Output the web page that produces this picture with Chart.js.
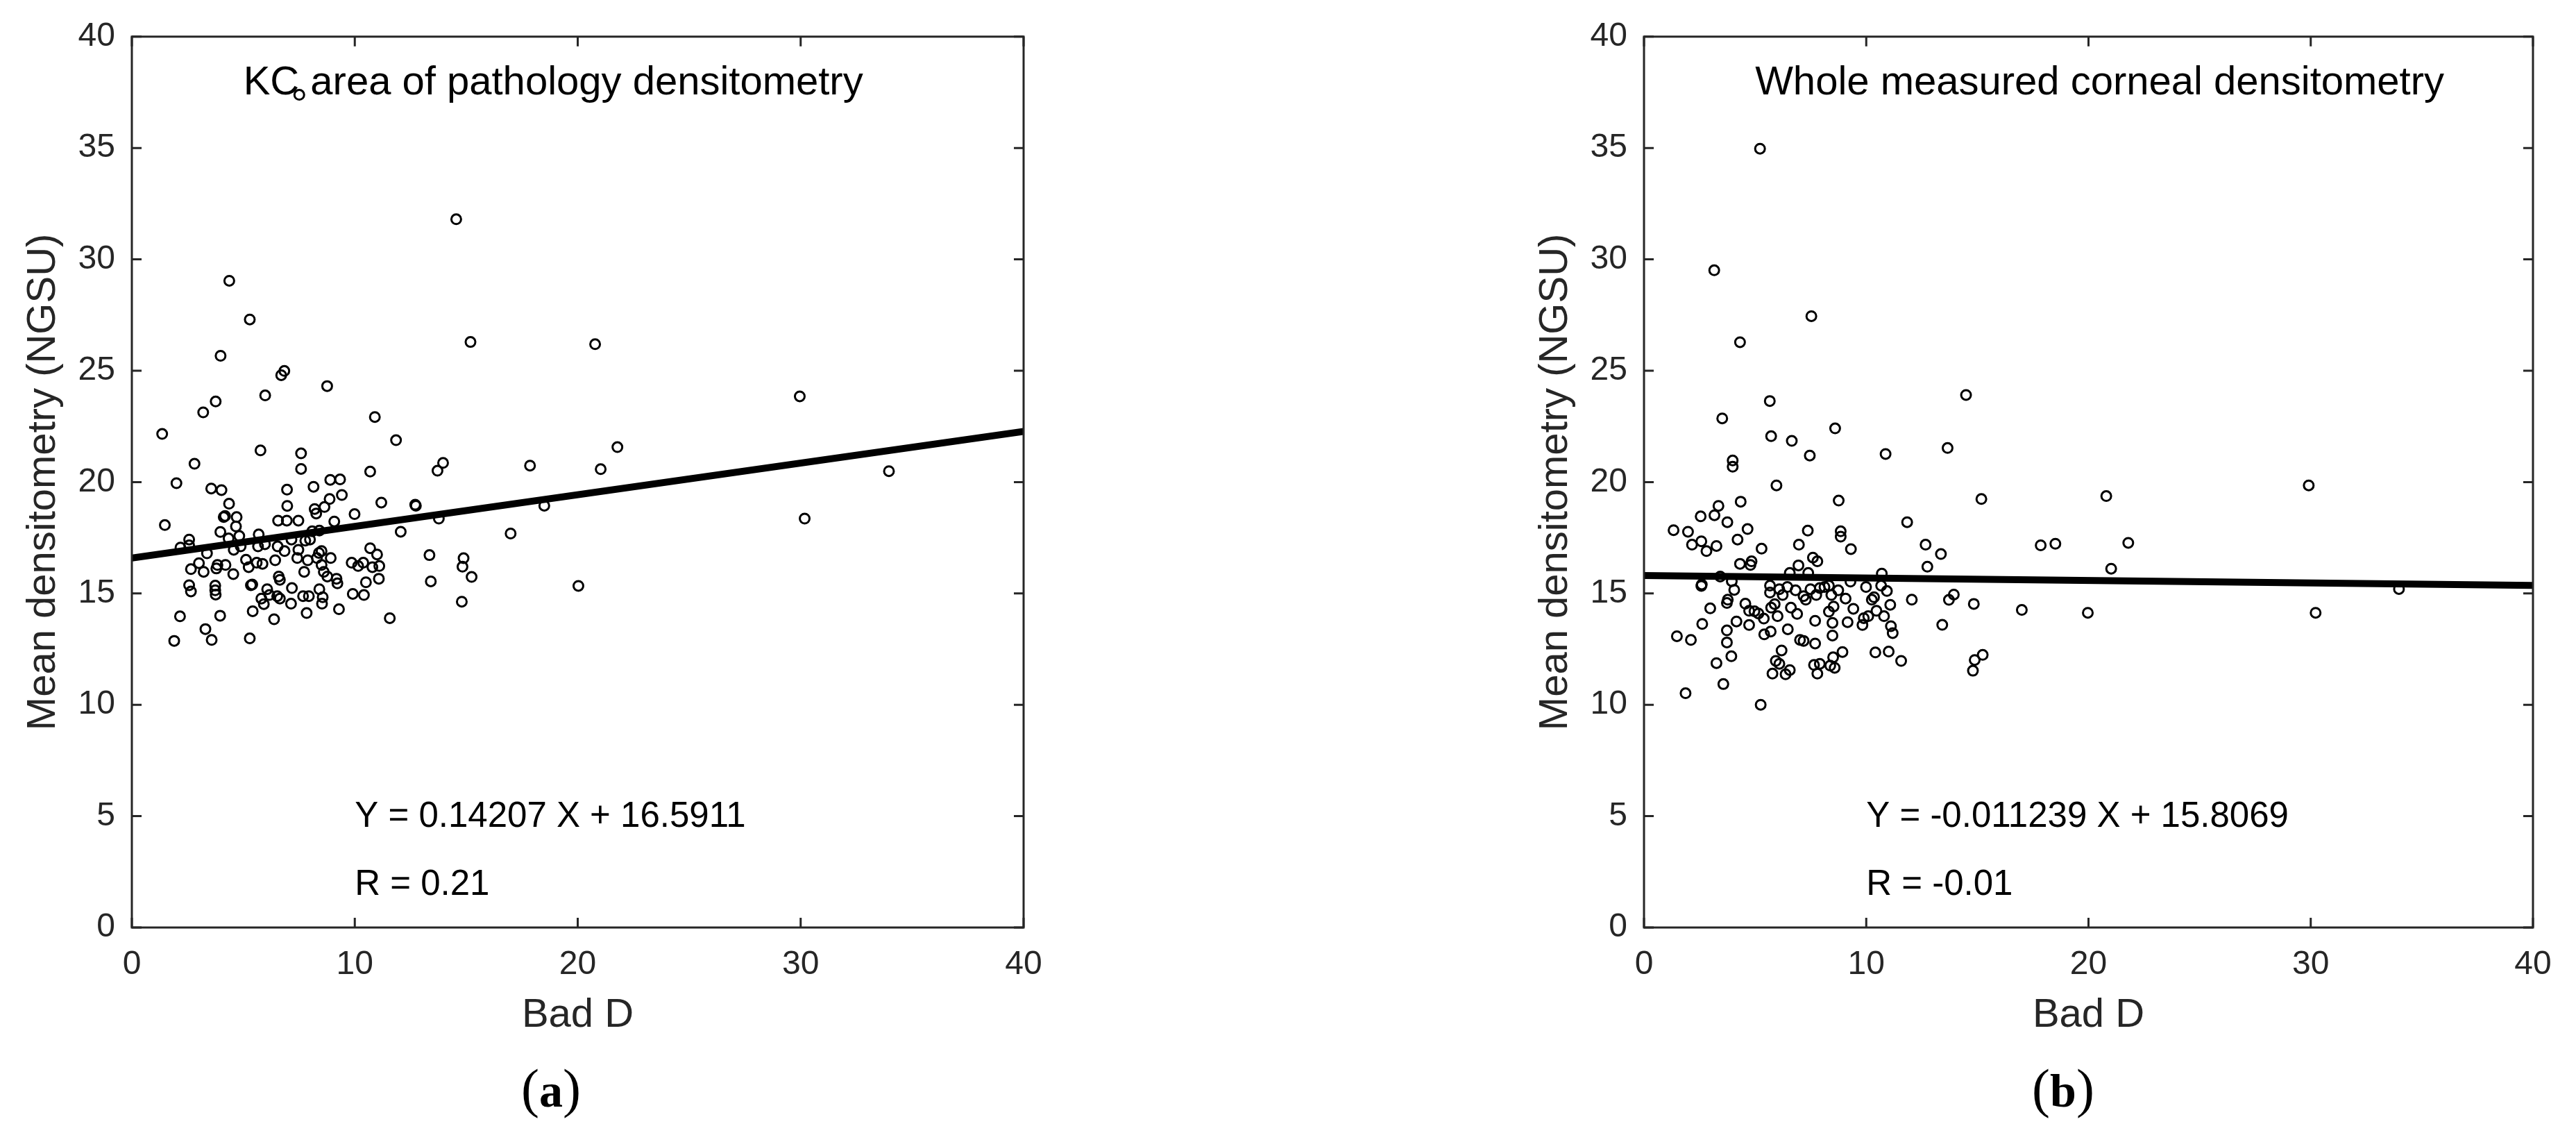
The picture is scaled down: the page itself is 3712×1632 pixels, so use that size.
<!DOCTYPE html>
<html>
<head>
<meta charset="utf-8">
<script src="https://cdn.jsdelivr.net/npm/chart.js@4.4.1/dist/chart.umd.min.js"></script>
<style>
  html, body { margin: 0; padding: 0; background: #fff; overflow: hidden; }
  body { width: 3712px; height: 1632px; position: relative; }
  canvas { position: absolute; top: 0; }
  #chartA { left: 0; }
  #chartB { left: 2179px; }
  .cap {
    position: absolute;
    font-family: 'Liberation Serif', 'Times New Roman', serif;
    font-size: 78px;
    line-height: 1;
    color: #000;
    transform: translate(-50%, -50%);
    white-space: nowrap;
  }
  .cap b { font-size: 68px; }
</style>
</head>
<body>
<canvas id="chartA" width="1560" height="1520"></canvas>
<canvas id="chartB" width="1530" height="1520"></canvas>
<div class="cap" style="left:794px; top:1568px">(<b>a</b>)</div>
<div class="cap" style="left:2973px; top:1568px">(<b>b</b>)</div>
<script>
// panel (a): KC area of pathology densitometry vs Bad D
const badDA = [
  7.51, 14.55, 4.37, 5.29, 15.19, 20.78, 3.98, 6.84, 6.70, 8.76,
  29.96, 5.98, 3.76, 3.20, 10.90, 1.36, 11.85, 21.78, 13.96, 13.71,
  17.86, 21.03, 33.96, 18.50, 13.77, 30.18, 16.99, 13.35, 14.88, 14.83,
  15.24, 13.41, 20.03, 14.80,
  5.77, 7.59, 7.59, 2.81, 2.00, 3.56, 4.02, 6.96, 8.15, 8.90,
  9.34, 10.69, 4.36, 9.42, 8.87, 11.19, 6.97, 12.71, 12.74, 8.64,
  8.20, 8.27, 4.12, 4.18, 4.70, 9.99, 6.56, 6.95, 7.47, 9.08,
  1.48, 4.67, 12.06, 3.97, 4.82, 5.69, 2.57, 4.34, 8.09, 8.41,
  2.18, 2.57, 4.57, 4.88, 5.66, 5.97, 6.54, 7.16, 7.47, 7.78,
  7.99, 3.37, 8.51, 8.39, 10.69, 11.00, 3.01, 2.65, 3.22, 3.84,
  3.79, 4.20, 4.55, 5.12, 5.24, 5.60, 5.86, 6.43, 6.85, 7.42,
  7.89, 7.73, 8.30, 8.51, 8.61, 8.77, 8.92, 9.18, 9.22, 9.86,
  10.15, 10.38, 10.79, 11.10, 11.08, 10.50, 6.59, 6.64, 2.57, 2.65,
  3.74, 3.74, 3.76, 5.34, 5.40, 6.07, 6.17, 5.81, 5.92, 6.52,
  6.64, 7.18, 7.14, 7.68, 7.94, 8.41, 8.56, 8.53, 9.91, 10.41,
  9.29, 7.84, 5.42, 6.38, 2.16, 3.96, 11.57, 3.30, 1.90, 3.58,
  5.29
];
const densA = [
  37.39, 31.80, 29.04, 27.30, 26.29, 26.19, 25.67, 24.99, 24.80, 24.31,
  23.85, 23.89, 23.62, 23.13, 22.92, 22.16, 21.88, 21.57, 20.86, 20.51,
  20.74, 20.58, 20.49, 18.94, 18.36, 18.36, 17.69, 16.72, 16.58, 16.20,
  15.74, 15.54, 15.34, 14.63,
  21.42, 21.29, 20.59, 20.82, 19.95, 19.71, 19.64, 19.66, 19.79, 20.10,
  20.12, 20.47, 19.03, 19.42, 19.24, 19.08, 18.93, 18.98, 18.94, 18.88,
  18.79, 18.59, 18.43, 18.48, 18.43, 18.56, 18.27, 18.27, 18.27, 18.23,
  18.07, 18.01, 17.77, 17.76, 17.58, 17.65, 17.42, 17.47, 17.79, 17.82,
  17.06, 17.16, 16.96, 17.11, 17.11, 17.21, 17.11, 17.42, 16.96, 17.37,
  17.42, 16.80, 16.90, 16.82, 17.03, 16.75, 16.36, 16.09, 15.97, 16.28,
  16.12, 16.28, 15.87, 16.51, 16.18, 16.38, 16.33, 16.49, 16.90, 16.59,
  16.49, 15.97, 16.59, 16.28, 15.97, 15.76, 16.59, 15.66, 15.45, 16.38,
  16.23, 16.38, 16.18, 16.23, 15.66, 15.50, 15.76, 15.61, 15.37, 15.09,
  15.35, 15.14, 14.95, 15.37, 15.40, 15.19, 14.93, 14.77, 14.52, 14.88,
  14.77, 15.24, 14.54, 14.88, 14.88, 15.19, 14.83, 14.54, 14.98, 14.93,
  14.29, 14.12, 14.20, 13.84, 13.97, 14.00, 13.89, 13.40, 12.87, 12.91,
  12.98
];

// panel (b): whole measured corneal densitometry vs Bad D
const badDB = [
  5.22, 3.16, 7.53, 4.32, 14.49, 5.66, 3.52, 8.60, 5.72, 13.66,
  29.91, 15.18, 20.80, 13.36, 17.85, 18.51, 21.79, 21.02, 33.97, 13.94,
  13.72, 14.84, 17.00, 19.97, 30.22, 13.42, 15.24, 14.88, 14.80,
  6.65, 7.46, 10.87, 3.99, 3.99, 5.96, 8.76, 4.35, 3.35, 3.17,
  2.55, 3.75, 11.84, 1.33, 1.98, 4.66, 7.37, 8.85, 8.85, 4.21,
  2.16, 2.58, 2.81, 3.26, 5.29, 6.97, 9.31, 12.67, 12.75, 7.60,
  7.80, 4.32, 4.84, 4.79, 6.95, 6.56, 7.39, 10.70, 3.43, 3.95,
  2.60, 2.58, 4.06, 5.67, 5.67, 6.09, 6.24, 6.45, 6.82, 7.18,
  7.28, 7.49, 7.75, 7.91, 8.12, 8.32, 8.43, 8.74, 9.07, 9.29,
  9.42, 9.99, 10.25, 10.35, 10.67, 10.93, 11.08, 12.05, 10.46, 10.80,
  3.73, 3.77, 4.56, 2.98, 4.73, 4.97, 5.15, 5.39, 5.72, 5.88,
  6.01, 6.61, 6.89, 8.32, 8.53, 8.48, 7.70, 9.16, 9.89, 9.83,
  10.09, 11.11, 11.19, 4.16, 4.73, 2.62, 3.73, 3.73, 5.41, 5.70,
  6.47, 7.02, 7.18, 7.70, 8.48, 1.48, 2.11, 3.93, 3.26, 6.19,
  5.93, 6.09, 6.56, 6.37, 5.78, 7.65, 7.91, 7.80, 8.51, 8.93,
  8.38, 8.58, 10.41, 11.01, 11.57, 3.57, 1.87, 5.25
];
const densB = [
  34.97, 29.51, 27.45, 26.28, 23.91, 23.64, 22.86, 22.41, 22.06, 21.53,
  19.85, 19.24, 19.37, 16.77, 17.16, 17.23, 17.27, 16.11, 15.20, 14.95,
  14.71, 14.53, 14.26, 14.13, 14.13, 13.59, 12.24, 12.01, 11.53,
  21.85, 21.19, 21.26, 20.97, 20.69, 19.85, 19.17, 19.12, 18.93, 18.51,
  18.46, 18.20, 18.20, 17.84, 17.77, 17.89, 17.82, 17.79, 17.55, 17.42,
  17.19, 17.34, 16.90, 17.13, 17.01, 17.19, 16.99, 17.19, 16.20, 16.61,
  16.44, 16.33, 16.44, 16.28, 16.26, 15.92, 15.92, 15.89, 15.76, 15.55,
  15.40, 15.34, 15.16, 15.35, 15.04, 15.19, 14.93, 15.29, 15.14, 14.88,
  14.72, 15.19, 14.93, 15.24, 15.29, 15.35, 14.93, 15.14, 14.77, 15.53,
  14.31, 15.29, 14.72, 14.83, 15.35, 15.11, 14.49, 14.72, 14.22, 13.98,
  14.57, 14.72, 14.54, 14.33, 14.22, 14.20, 14.10, 13.87, 14.36, 14.52,
  13.98, 14.36, 14.08, 14.18, 14.41, 13.68, 13.77, 13.71, 13.89, 13.58,
  13.98, 13.53, 13.22, 13.74, 13.58, 13.63, 13.34, 12.80, 13.16, 13.29,
  13.39, 12.91, 12.87, 12.75, 13.11, 13.08, 12.91, 12.18, 11.87, 12.44,
  11.97, 11.84, 11.56, 11.37, 11.40, 11.79, 11.84, 11.40, 12.13, 12.37,
  11.76, 11.66, 12.35, 12.39, 11.97, 10.93, 10.52, 10.00
];

// least-squares lines, end points at x = 0 and x = 40
const fitX = [0, 40];
const fitA = [16.591, 22.274];
const fitB = [15.807, 15.357];

const xTicks = [0, 10, 20, 30, 40];
const yTicks = [0, 5, 10, 15, 20, 25, 30, 35, 40];

const FONT = '"Liberation Sans", Arial, Helvetica, sans-serif';
const AXIS_COLOR = '#262626';

// MATLAB style box: frame on all four sides, ticks pointing inward, text inside the axes
const boxPlugin = {
  id: 'matlabBox',
  afterDatasetsDraw(chart, args, opts) {
    const { ctx, chartArea: a, scales: { x, y } } = chart;
    ctx.save();
    ctx.strokeStyle = AXIS_COLOR;
    ctx.lineWidth = 3;
    ctx.strokeRect(a.left, a.top, a.right - a.left, a.bottom - a.top);
    ctx.beginPath();
    xTicks.forEach(v => {
      const px = x.getPixelForValue(v);
      ctx.moveTo(px, a.bottom); ctx.lineTo(px, a.bottom - 14);
      ctx.moveTo(px, a.top); ctx.lineTo(px, a.top + 14);
    });
    yTicks.forEach(v => {
      const py = y.getPixelForValue(v);
      ctx.moveTo(a.left, py); ctx.lineTo(a.left + 14, py);
      ctx.moveTo(a.right, py); ctx.lineTo(a.right - 14, py);
    });
    ctx.stroke();

    ctx.fillStyle = '#000';
    ctx.textAlign = 'left';
    ctx.textBaseline = 'middle';
    ctx.font = '58px ' + FONT;
    ctx.fillText(opts.title, x.getPixelForValue(5), y.getPixelForValue(37.9));
    ctx.font = '51px ' + FONT;
    ctx.fillText(opts.equation, x.getPixelForValue(10), y.getPixelForValue(4.95));
    ctx.fillText(opts.r, x.getPixelForValue(10), y.getPixelForValue(1.9));
    ctx.restore();
  }
};

function makeChart(id, xs, ys, fit, padRight, texts) {
  const points = xs.map((v, i) => ({ x: v, y: ys[i] }));
  const line = fitX.map((v, i) => ({ x: v, y: fit[i] }));
  return new Chart(document.getElementById(id), {
    type: 'scatter',
    data: {
      datasets: [
        {
          type: 'line',
          data: line,
          borderColor: '#000',
          borderWidth: 10,
          pointRadius: 0,
          fill: false,
          clip: 0
        },
        {
          data: points,
          pointStyle: 'circle',
          pointRadius: 7,
          borderWidth: 3,
          borderColor: '#000',
          backgroundColor: 'rgba(0,0,0,0)'
        }
      ]
    },
    options: {
      responsive: false,
      animation: false,
      events: [],
      layout: { padding: { left: 0, top: 52, right: padRight, bottom: 22 } },
      plugins: {
        legend: { display: false },
        tooltip: { enabled: false },
        matlabBox: texts
      },
      scales: {
        x: {
          type: 'linear',
          min: 0,
          max: 40,
          afterBuildTicks: s => { s.ticks = xTicks.map(v => ({ value: v })); },
          afterFit: s => { s.height = 162; },
          grid: { display: false, drawTicks: false },
          border: { display: false },
          ticks: { color: AXIS_COLOR, font: { family: FONT, size: 48 }, padding: 25, maxRotation: 0 },
          title: { display: true, text: 'Bad D', color: AXIS_COLOR, font: { family: FONT, size: 58 }, padding: { top: 0, bottom: 0 } }
        },
        y: {
          type: 'linear',
          min: 0,
          max: 40,
          afterBuildTicks: s => { s.ticks = yTicks.map(v => ({ value: v })); },
          afterFit: s => { s.width = 190; },
          grid: { display: false, drawTicks: false },
          border: { display: false },
          ticks: { color: AXIS_COLOR, font: { family: FONT, size: 48 }, padding: 24 },
          title: { display: true, text: 'Mean densitometry (NGSU)', color: AXIS_COLOR, font: { family: FONT, size: 58 }, padding: { top: 28, bottom: 0 } }
        }
      }
    },
    plugins: [boxPlugin]
  });
}

makeChart('chartA', badDA, densA, fitA, 85, {
  title: 'KC area of pathology densitometry',
  equation: 'Y = 0.14207 X + 16.5911',
  r: 'R = 0.21'
});
makeChart('chartB', badDB, densB, fitB, 59, {
  title: 'Whole measured corneal densitometry',
  equation: 'Y = -0.011239 X + 15.8069',
  r: 'R = -0.01'
});
</script>
</body>
</html>
